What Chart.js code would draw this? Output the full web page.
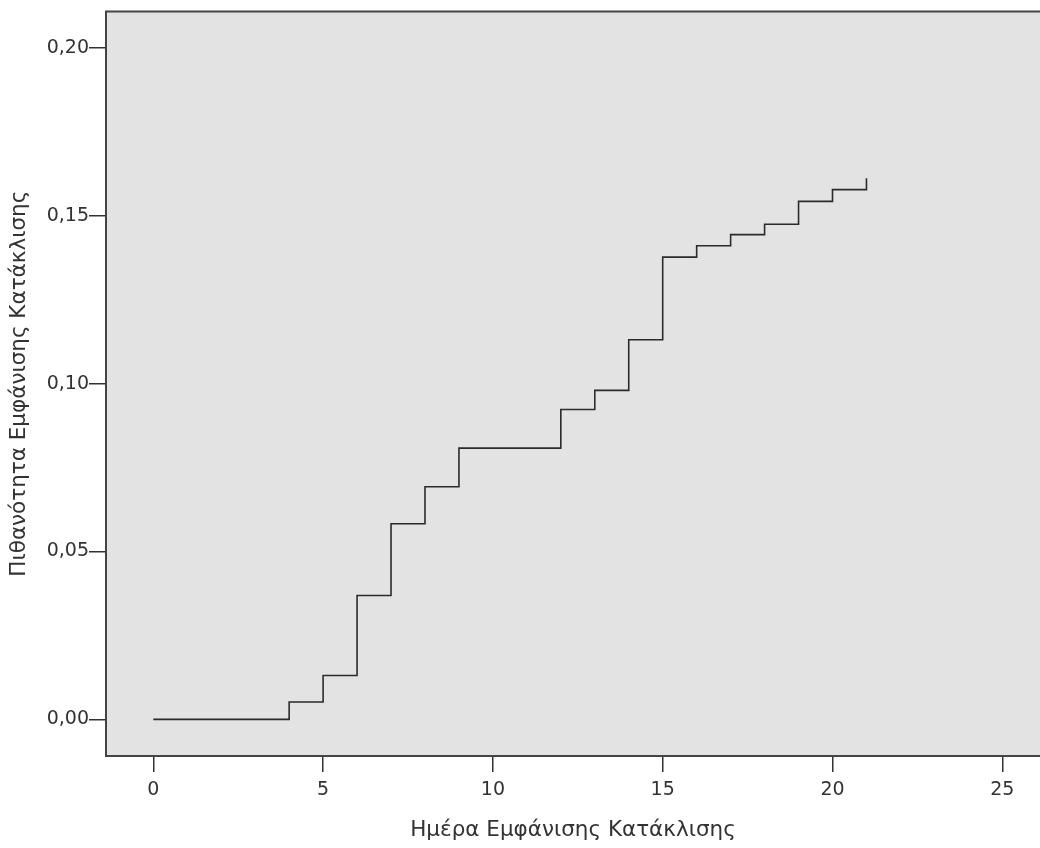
<!DOCTYPE html>
<html>
<head>
<meta charset="utf-8">
<script src="https://cdn.jsdelivr.net/npm/chart.js@4/dist/chart.umd.min.js"></script>
<style>
  body { margin: 0; background: #fff; }
  #wrap { width: 1040px; height: 848px; }
</style>
</head>
<body>
<div id="wrap"><canvas id="myChart" width="1040" height="848"></canvas></div>
<script>
// days at which the cumulative probability steps up
var days = [0, 4, 5, 6, 7, 8, 9, 12, 13, 14, 15, 16, 17, 18, 19, 20, 21];
// cumulative probability
var probs = [0, 0.0052, 0.0131, 0.0369, 0.0583, 0.0693, 0.0808, 0.0923, 0.0980, 0.1131, 0.1377, 0.1411, 0.1444, 0.1475, 0.1543, 0.1578, 0.1612];

var xTicks = [0, 5, 10, 15, 20, 25];
var xTickLabels = ['0', '5', '10', '15', '20', '25'];
var yTicks = [0, 0.05, 0.10, 0.15, 0.20];
var yTickLabels = ['0,00', '0,05', '0,10', '0,15', '0,20'];

var xTitle = 'Ημέρα Εμφάνισης Κατάκλισης';
var yTitle = 'Πιθανότητα Εμφάνισης Κατάκλισης';

var font = 'DejaVu Sans';
var ink = '#333333';

// gray plot panel with a frame, like the SPSS output
var panel = {
  id: 'panel',
  beforeDraw: function (chart) {
    var a = chart.chartArea, c = chart.ctx;
    c.save();
    c.fillStyle = '#e3e3e3';
    c.fillRect(a.left, a.top, a.right - a.left, a.bottom - a.top);
    c.restore();
  },
  afterDraw: function (chart) {
    var a = chart.chartArea, c = chart.ctx;
    c.save();
    c.strokeStyle = '#444444';
    c.lineWidth = 2;
    c.beginPath();
    c.moveTo(a.right + 2, a.top);
    c.lineTo(a.left, a.top);
    c.lineTo(a.left, a.bottom);
    c.lineTo(a.right + 2, a.bottom);
    c.stroke();
    c.restore();
  }
};

var ctx = document.getElementById('myChart').getContext('2d');
var chart = new Chart(ctx, {
  type: 'line',
  data: {
    datasets: [{
      data: days.map(function (d, i) { return { x: d, y: probs[i] }; }),
      stepped: 'before',
      borderColor: '#2b2b2b',
      borderWidth: 1.6,
      pointRadius: 0,
      fill: false
    }]
  },
  options: {
    responsive: false,
    animation: false,
    devicePixelRatio: 1,
    layout: { padding: { top: 10, right: 0, bottom: 0, left: 0 } },
    plugins: { legend: { display: false }, tooltip: { enabled: false } },
    scales: {
      x: {
        type: 'linear',
        min: -1.393,
        max: 26.11,
        afterBuildTicks: function (s) { s.ticks = xTicks.map(function (v) { return { value: v }; }); },
        afterFit: function (s) { s.height = 92; },
        border: { display: false },
        grid: { drawOnChartArea: false, drawTicks: true, tickLength: 16, color: ink, lineWidth: 1.5 },
        ticks: {
          padding: 7,
          color: ink,
          font: { family: font, size: 19 },
          callback: function (v, i) { return xTickLabels[i]; }
        },
        title: { display: true, text: xTitle, color: ink, font: { family: font, size: 21.5 }, padding: { top: 0, bottom: 5 } }
      },
      y: {
        type: 'linear',
        min: -0.0109,
        max: 0.2109,
        afterBuildTicks: function (s) { s.ticks = yTicks.map(function (v) { return { value: v }; }); },
        afterFit: function (s) { s.width = 106; },
        border: { display: false },
        grid: { drawOnChartArea: false, drawTicks: true, tickLength: 17, color: ink, lineWidth: 1.5 },
        ticks: {
          padding: 0,
          color: ink,
          font: { family: font, size: 19 },
          callback: function (v, i) { return yTickLabels[i]; }
        },
        title: { display: true, text: yTitle, color: ink, font: { family: font, size: 21.5 }, padding: { top: 7, bottom: 0 } }
      }
    }
  },
  plugins: [panel]
});
</script>
</body>
</html>
